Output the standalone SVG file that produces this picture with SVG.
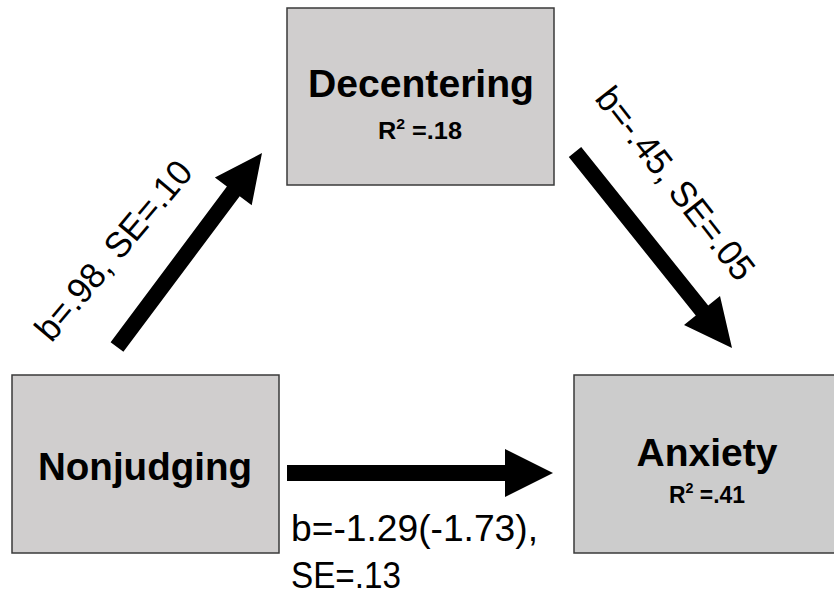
<svg xmlns="http://www.w3.org/2000/svg" width="834" height="601" viewBox="0 0 834 601">
<style>
.box{fill:#d0cece;stroke:#3a3a3a;stroke-width:1.5}
.title{font-family:"Liberation Sans",Arial,sans-serif;font-weight:bold;font-size:39px;fill:#000;text-anchor:middle}
.r2{font-family:"Liberation Sans",Arial,sans-serif;font-weight:bold;font-size:24px;fill:#000;text-anchor:middle}
.lbl{font-family:"Liberation Sans",Arial,sans-serif;font-size:36px;fill:#000}
.arrow{fill:#000}
</style>
<rect width="834" height="601" fill="#fff"/>
<g id="decentering">
<rect class="box" x="287" y="8" width="267" height="177"/>
<text class="title" x="421" y="97" textLength="226" lengthAdjust="spacingAndGlyphs">Decentering</text>
<text class="r2" x="420" y="139" textLength="84" lengthAdjust="spacingAndGlyphs">R<tspan font-size="15" dy="-10">2</tspan><tspan dy="10"> =.18</tspan></text>
</g>
<g id="nonjudging">
<rect class="box" x="12" y="375" width="267" height="178"/>
<text class="title" x="145" y="480" textLength="214" lengthAdjust="spacingAndGlyphs">Nonjudging</text>
</g>
<g id="anxiety">
<rect class="box" x="574" y="375" width="262" height="178" style="fill:#cccccc"/>
<text class="title" x="707" y="466" textLength="141" lengthAdjust="spacingAndGlyphs">Anxiety</text>
<text class="r2" x="707" y="503" textLength="76" lengthAdjust="spacingAndGlyphs">R<tspan font-size="15" dy="-10">2</tspan><tspan dy="10"> =.41</tspan></text>
</g>
<g id="connectors">
<polygon class="arrow" points="123.4,351.8 239.7,196.2 251.7,205.2 262,153 214.9,177.6 226.9,186.6 110.6,342.2"/>
<polygon class="arrow" points="568.8,157 695.8,315.5 684,324.9 732,348 720,296.1 708.2,305.5 581.2,147"/>
<polygon class="arrow" points="287,465 505,465 505,449 553,473 505,497 505,481 287,481"/>
<text class="lbl" transform="translate(113,250) rotate(-50)" x="0" y="13" text-anchor="middle" textLength="222" lengthAdjust="spacingAndGlyphs">b=.98, SE=.10</text>
<text class="lbl" transform="translate(676,183) rotate(52)" x="0" y="13" text-anchor="middle" textLength="234" lengthAdjust="spacingAndGlyphs">b=-.45, SE=.05</text>
<text class="lbl" x="291" y="541" textLength="247" lengthAdjust="spacingAndGlyphs">b=-1.29(-1.73),</text>
<text class="lbl" x="291" y="588" textLength="110" lengthAdjust="spacingAndGlyphs">SE=.13</text>
</g>
</svg>
